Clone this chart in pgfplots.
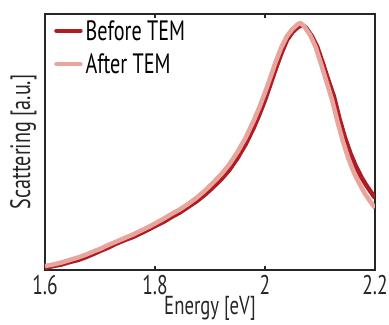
\documentclass[border=0pt]{standalone}
\usepackage{fontspec}
\setmainfont{PT Sans}[FakeStretch=0.72]
\usepackage{pgfplots}
\pgfplotsset{compat=1.18}
\definecolor{darkred}{HTML}{B01C24}
\definecolor{lightred}{HTML}{E6A59D}
\begin{document}
\begin{tikzpicture}
\useasboundingbox (-45bp,-55bp) rectangle (344bp,270bp);
\begin{axis}[
  at={(0,0)}, anchor=south west,
  scale only axis, width=330bp, height=256bp,
  xmin=1.6, xmax=2.2, ymin=0, ymax=256,
  xtick={1.6,1.8,2,2.2},
  xticklabels={1.6,1.8,2,2.2},
  ytick=\empty,
  tick align=inside, major tick length=4bp,
  axis line style={line width=1.4bp, black!85},
  every tick/.style={line width=1.2bp, black!85},
  tick label style={font=\fontsize{27bp}{29bp}\selectfont, black!85},
  xticklabel style={yshift=-2bp},
  /pgf/number format/assume math mode=true,
  xlabel={Energy [eV]}, ylabel={Scattering [a.u.]},
  label style={font=\fontsize{28bp}{30bp}\selectfont, black!85},
  xlabel style={font=\fontsize{26bp}{27bp}\selectfont, yshift=2bp, inner sep=0pt},
  ylabel style={yshift=5bp},
  legend style={draw=none, fill=none, at={(0.0,1.0)}, anchor=north west, font=\fontsize{28bp}{30bp}\selectfont, row sep=8bp, inner xsep=3bp, xshift=6bp, yshift=-2bp,
    nodes={inner xsep=3bp}},
  legend cell align=left,
  legend image code/.code={\draw[#1, line cap=round] (0bp,0bp) -- (24bp,0bp);},
]
\addplot[darkred, line width=4.5bp, line join=round] coordinates {
(1.600,2) (1.615,4) (1.630,5.5) (1.645,8) (1.660,10) (1.675,13) (1.690,16.5) (1.700,19)
(1.715,22.5) (1.730,26.5) (1.745,30) (1.760,33) (1.775,37) (1.790,41) (1.800,44) (1.815,48)
(1.830,53) (1.845,57.5) (1.860,63) (1.875,68.5) (1.890,75) (1.905,82.5) (1.920,90.5) (1.935,100)
(1.950,112) (1.965,126) (1.980,143) (1.990,156) (2.000,170) (2.010,186) (2.020,202) (2.030,217)
(2.040,230) (2.050,238) (2.060,243) (2.068,245) (2.075,242) (2.085,234) (2.095,223) (2.105,207)
(2.115,190) (2.125,174) (2.135,152) (2.145,133) (2.155,117) (2.165,104) (2.175,93) (2.185,84)
(2.195,76) (2.200,72)};
\addlegendentry{Before TEM}
\addplot[lightred, line width=4.5bp, line join=round] coordinates {
(1.600,4) (1.615,5.5) (1.630,7.5) (1.645,10) (1.660,12.5) (1.675,15.5) (1.690,19) (1.700,21)
(1.715,25) (1.730,28.5) (1.745,32) (1.760,35.5) (1.775,39.5) (1.790,43.5) (1.800,46.5) (1.815,51)
(1.830,56) (1.845,60.5) (1.860,66) (1.875,72) (1.890,79) (1.905,87) (1.920,95.5) (1.935,105.5)
(1.950,118) (1.965,132.5) (1.980,150) (1.990,163) (2.000,177.5) (2.010,193) (2.020,209) (2.030,223)
(2.040,234) (2.050,241) (2.060,246) (2.065,247) (2.072,243) (2.082,235) (2.092,223) (2.102,206)
(2.112,188) (2.122,170) (2.132,148) (2.142,128) (2.152,111) (2.162,97) (2.172,86) (2.182,76)
(2.192,68) (2.200,62)};
\addlegendentry{After TEM}
\end{axis}
\end{tikzpicture}
\end{document}
